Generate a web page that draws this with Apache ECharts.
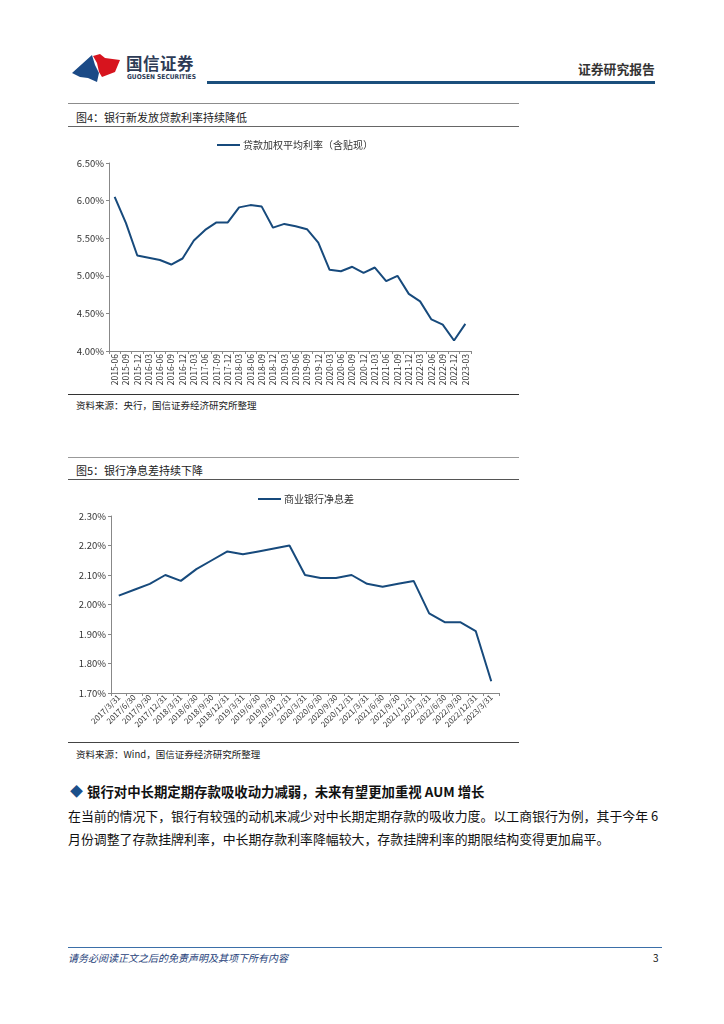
<!DOCTYPE html>
<html>
<head>
<meta charset="utf-8">
<script src="https://cdn.jsdelivr.net/npm/echarts@6/dist/echarts.min.js"></script>
<style>
  html,body{margin:0;padding:0;background:#fff;}
  body{width:724px;height:1024px;position:relative;overflow:hidden;font-family:"Noto Sans CJK SC","Noto Sans",sans-serif;color:#111;}
  .abs{position:absolute;white-space:nowrap;}
  .rule{position:absolute;}
</style>
</head>
<body>
<script>
// ---------- data ----------
const loanCategories = ['2015-06','2015-09','2015-12','2016-03','2016-06','2016-09','2016-12','2017-03','2017-06','2017-09','2017-12','2018-03','2018-06','2018-09','2018-12','2019-03','2019-06','2019-09','2019-12','2020-03','2020-06','2020-09','2020-12','2021-03','2021-06','2021-09','2021-12','2022-03','2022-06','2022-09','2022-12','2023-03'];
const loanRates = [6.05,5.70,5.27,5.24,5.21,5.15,5.23,5.47,5.61,5.71,5.71,5.91,5.94,5.92,5.64,5.69,5.66,5.62,5.44,5.08,5.06,5.12,5.04,5.11,4.93,5.00,4.76,4.66,4.42,4.35,4.14,4.36];
const loanSeriesName = '贷款加权平均利率（含贴现）';
const loanYTicks = {min:4, max:6.5, interval:0.5};

const nimCategories = ['2017/3/31','2017/6/30','2017/9/30','2017/12/31','2018/3/31','2018/6/30','2018/9/30','2018/12/31','2019/3/31','2019/6/30','2019/9/30','2019/12/31','2020/3/31','2020/6/30','2020/9/30','2020/12/31','2021/3/31','2021/6/30','2021/9/30','2021/12/31','2022/3/31','2022/6/30','2022/9/30','2022/12/31','2023/3/31'];
const nimValues = [2.03,2.05,2.07,2.10,2.08,2.12,2.15,2.18,2.17,2.18,2.19,2.20,2.10,2.09,2.09,2.10,2.07,2.06,2.07,2.08,1.97,1.94,1.94,1.91,1.74];
const nimSeriesName = '商业银行净息差';
const nimYTicks = {min:1.7, max:2.3, interval:0.1};
</script>

<!-- header -->
<svg class="abs" style="left:70px;top:52px;" width="54" height="34" viewBox="0 0 54 34">
  <polygon points="2,21 22,3 25,13 29,21 27,30 18,26 10,25" fill="#1b4a86"/>
  <polygon points="23,4 30,2 35,6 50,8 45,20 32,25 29,20 27,11" fill="#d7141e"/>
</svg>
<div class="abs" style="left:126px;top:51px;font-size:16.5px;font-weight:bold;color:#2d3b56;letter-spacing:0.5px;">国信证券</div>
<div class="abs" style="left:127px;top:73px;font-size:6.6px;font-weight:bold;color:#2d3b56;font-family:'Liberation Sans Narrow','DejaVu Sans Condensed','Liberation Sans',sans-serif;">GUOSEN SECURITIES</div>
<div class="rule" style="left:207px;top:81px;width:448px;height:2.5px;background:#1b4f7c;"></div>
<div class="abs" style="left:578px;top:59px;font-size:12.8px;font-weight:bold;color:#333;">证券研究报告</div>

<!-- figure 4 -->
<div class="rule" style="left:68px;top:102.5px;width:451px;height:1.5px;background:#8c8c8c;"></div>
<div class="abs" style="left:76px;top:109px;font-size:11px;color:#222;">图4：银行新发放贷款利率持续降低</div>
<div class="rule" style="left:68px;top:125.5px;width:451px;height:1px;background:#666;"></div>
<div id="c1" style="position:absolute;left:68px;top:128px;width:452px;height:266px;"></div>
<div class="rule" style="left:68px;top:393.5px;width:451px;height:1px;background:#333;"></div>
<div class="abs" style="left:76px;top:398px;font-size:9.5px;color:#222;">资料来源：央行，国信证券经济研究所整理</div>

<!-- figure 5 -->
<div class="rule" style="left:68px;top:456.5px;width:451px;height:1.5px;background:#999;"></div>
<div class="abs" style="left:76px;top:462px;font-size:11px;color:#222;">图5：银行净息差持续下降</div>
<div class="rule" style="left:68px;top:478.5px;width:451px;height:1.5px;background:#555;"></div>
<div id="c2" style="position:absolute;left:68px;top:480px;width:452px;height:262px;"></div>
<div class="rule" style="left:68px;top:741.5px;width:451px;height:1px;background:#444;"></div>
<div class="abs" style="left:76px;top:747px;font-size:9.5px;color:#222;">资料来源：Wind，国信证券经济研究所整理</div>

<!-- text -->
<div class="abs" style="left:70px;top:781px;font-size:13px;color:#1b4f8a;">◆</div>
<div class="abs" style="left:87px;top:781px;font-size:13.4px;font-weight:bold;color:#111;">银行对中长期定期存款吸收动力减弱，未来有望更加重视 AUM 增长</div>
<div class="abs" style="left:68px;top:804px;font-size:12.9px;line-height:23px;color:#111;">在当前的情况下，银行有较强的动机来减少对中长期定期存款的吸收力度。以工商银行为例，其于今年 6<br>月份调整了存款挂牌利率，中长期存款利率降幅较大，存款挂牌利率的期限结构变得更加扁平。</div>

<!-- footer -->
<div class="rule" style="left:68px;top:947px;width:594px;height:1px;background:#3b6fa8;"></div>
<div class="abs" style="left:68px;top:950px;font-size:10px;font-style:italic;color:#1f3f7a;">请务必阅读正文之后的免责声明及其项下所有内容</div>
<div class="abs" style="left:653px;top:950px;font-size:10px;color:#111;">3</div>

<script>
const lineColor = '#174a7c';
const fontFam = '"Noto Sans CJK SC","Noto Sans",sans-serif';
function pct(v){ return v.toFixed(2) + '%'; }

function makeOption(cfg){
  return {
    animation:false,
    textStyle:{fontFamily:fontFam},
    legend:{
      left:cfg.legendLeft, top:cfg.legendTop,
      icon:'rect', itemWidth:23, itemHeight:2,
      itemGap:6,
      textStyle:{fontSize:10, color:'#333', padding:[0,0,0,-2]},
      data:[cfg.name]
    },
    grid:cfg.grid,
    xAxis:{
      type:'category',
      data:cfg.categories,
      boundaryGap:true,
      axisLine:{lineStyle:{color:'#888', width:1}},
      axisTick:{show:true, alignWithLabel:false, length:3, lineStyle:{color:'#888'}},
      axisLabel:{interval:0, rotate:cfg.rotate, fontSize:cfg.xFont, color:'#333', margin:3},
      splitLine:{show:false}
    },
    yAxis:{
      type:'value',
      min:cfg.ticks.min, max:cfg.ticks.max, interval:cfg.ticks.interval,
      axisLine:{show:true, lineStyle:{color:'#888', width:1}},
      axisTick:{show:true, length:3, lineStyle:{color:'#888'}},
      axisLabel:{formatter:pct, fontSize:9.5, color:'#333', margin:5},
      splitLine:{show:false}
    },
    series:[{
      name:cfg.name, type:'line', data:cfg.values,
      symbol:'none', showSymbol:false,
      lineStyle:{color:lineColor, width:2},
      itemStyle:{color:lineColor}
    }]
  };
}

const c1 = echarts.init(document.getElementById('c1'));
c1.setOption(makeOption({
  name:loanSeriesName, categories:loanCategories, values:loanRates, ticks:loanYTicks,
  legendLeft:144, legendTop:7,
  grid:{left:41, top:35, width:362, height:188},
  rotate:90, xFont:8.5
}));

const c2 = echarts.init(document.getElementById('c2'));
c2.setOption(makeOption({
  name:nimSeriesName, categories:nimCategories, values:nimValues, ticks:nimYTicks,
  legendLeft:185, legendTop:9,
  grid:{left:43, top:36, width:388, height:177},
  rotate:45, xFont:8
}));
</script>
</body>
</html>
